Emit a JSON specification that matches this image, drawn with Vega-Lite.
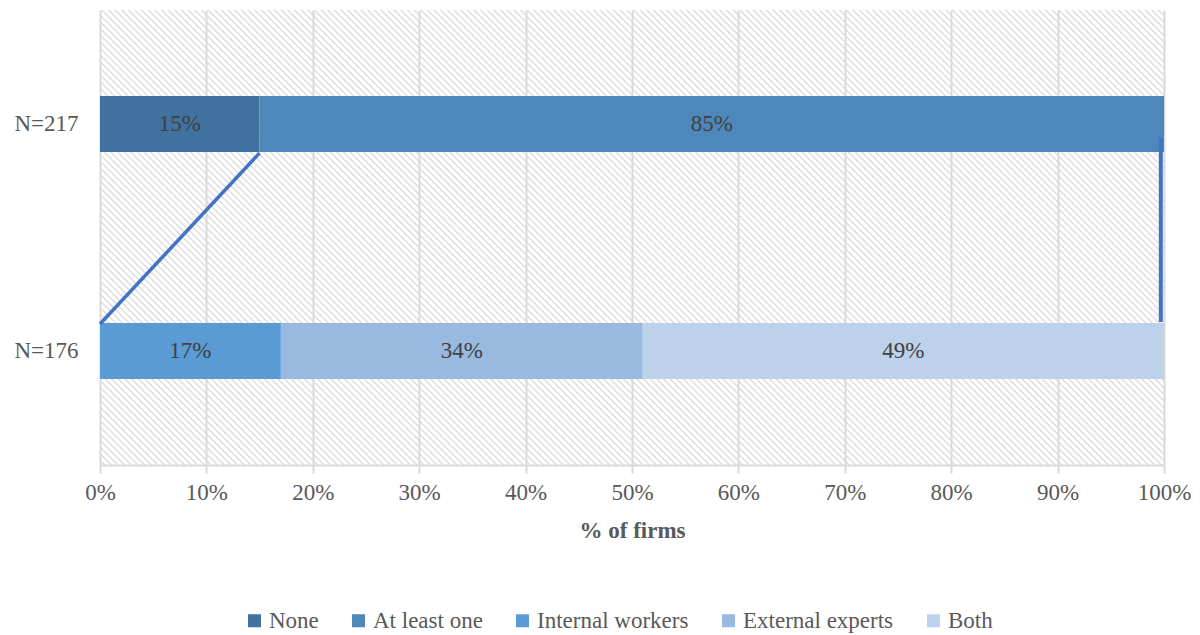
{
  "$schema": "https://vega.github.io/schema/vega-lite/v6.json",
  "width": 1064,
  "height": 455,
  "autosize": "none",
  "padding": {"left": 100, "top": 10, "right": 36, "bottom": 170},
  "background": "white",
  "config": {"view": {"stroke": null}, "font": "Liberation Serif"},
  "data": {"values": [
    {"group": "N=217", "cat": "None", "value": 15, "label": "15%", "k": 0},
    {"group": "N=217", "cat": "At least one", "value": 85, "label": "85%", "k": 1},
    {"group": "N=176", "cat": "Internal workers", "value": 17, "label": "17%", "k": 2},
    {"group": "N=176", "cat": "External experts", "value": 34, "label": "34%", "k": 3},
    {"group": "N=176", "cat": "Both", "value": 49, "label": "49%", "k": 4}
  ]},
  "layer": [
    {
      "data": {"values": [{}]},
      "mark": {"type": "rule", "clip": true, "stroke": "#dcdcdc", "strokeWidth": 1300, "strokeCap": "butt", "strokeDash": [1.4, 3.3]},
      "encoding": {
        "x": {"datum": -25.19, "type": "quantitative", "scale": {"domain": [0, 100], "nice": false}},
        "x2": {"datum": 125.19},
        "y": {"datum": -1.258, "type": "quantitative", "scale": {"domain": [0, 1], "nice": false, "zero": false}, "axis": null},
        "y2": {"datum": 2.258}
      }
    },
    {
      "transform": [
        {"stack": "value", "groupby": ["group"], "sort": [{"field": "k"}], "as": ["x0", "x1"]},
        {"calculate": "(datum.x0 + datum.x1) / 2", "as": "xm"}
      ],
      "encoding": {
        "y": {
          "field": "group", "type": "nominal", "sort": ["N=217", "N=176"],
          "scale": {"paddingInner": 0.7533, "paddingOuter": 0.3789},
          "axis": {"title": null, "domain": false, "ticks": false, "grid": false, "labelPadding": 22, "labelFontSize": 23, "labelColor": "#595959", "labelFont": "Liberation Serif"}
        }
      },
      "layer": [
        {
          "mark": {"type": "bar"},
          "encoding": {
            "x": {
              "field": "x0", "type": "quantitative",
              "scale": {"domain": [0, 100], "nice": false},
              "axis": {
                "title": "% of firms", "values": [0, 10, 20, 30, 40, 50, 60, 70, 80, 90, 100],
                "labelExpr": "datum.value + '%'", "grid": true, "gridColor": "#d9d9d9", "gridWidth": 2,
                "domainColor": "#d9d9d9", "domainWidth": 2, "tickColor": "#d9d9d9", "tickWidth": 2, "tickSize": 8,
                "labelPadding": 8, "labelFontSize": 23, "labelColor": "#595959", "labelFont": "Liberation Serif",
                "labelFlush": false, "labelOverlap": false,
                "titleFontSize": 23, "titleFontWeight": "bold", "titleColor": "#595959", "titleFont": "Liberation Serif", "titlePadding": 15
              }
            },
            "x2": {"field": "x1"},
            "color": {
              "field": "cat", "type": "nominal",
              "scale": {
                "domain": ["None", "At least one", "Internal workers", "External experts", "Both"],
                "range": ["#41729f", "#4e88ba", "#5b9bd5", "#99b9e0", "#bdd1eb"]
              },
              "legend": {
                "orient": "none", "legendX": 143, "legendY": 599, "direction": "horizontal", "columns": 5,
                "title": null, "symbolType": "square", "symbolSize": 169, "symbolStrokeWidth": 0,
                "labelFontSize": 23, "labelColor": "#595959", "labelFont": "Liberation Serif",
                "labelOffset": 3, "columnPadding": 28, "padding": 0
              }
            }
          }
        },
        {
          "mark": {"type": "text", "font": "Liberation Serif", "fontSize": 23, "color": "#404040", "align": "center", "baseline": "middle"},
          "encoding": {
            "x": {"field": "xm", "type": "quantitative", "scale": {"domain": [0, 100], "nice": false}},
            "text": {"field": "label"}
          }
        }
      ]
    },
    {
      "data": {"values": [{}]},
      "mark": {"type": "rule", "stroke": "#4472c4", "strokeWidth": 3.5},
      "encoding": {
        "x": {"datum": 15, "type": "quantitative", "scale": {"domain": [0, 100], "nice": false}},
        "x2": {"datum": 0},
        "y": {"datum": 0.6857, "type": "quantitative", "scale": {"domain": [0, 1], "nice": false, "zero": false}, "axis": null},
        "y2": {"datum": 0.3099}
      }
    },
    {
      "data": {"values": [{}]},
      "mark": {"type": "rule", "stroke": "#4472c4", "strokeWidth": 4},
      "encoding": {
        "x": {"datum": 99.7, "type": "quantitative", "scale": {"domain": [0, 100], "nice": false}},
        "x2": {"datum": 99.7},
        "y": {"datum": 0.7209, "type": "quantitative", "scale": {"domain": [0, 1], "nice": false, "zero": false}, "axis": null},
        "y2": {"datum": 0.3143}
      }
    }
  ],
  "resolve": {"scale": {"y": "independent"}}
}
